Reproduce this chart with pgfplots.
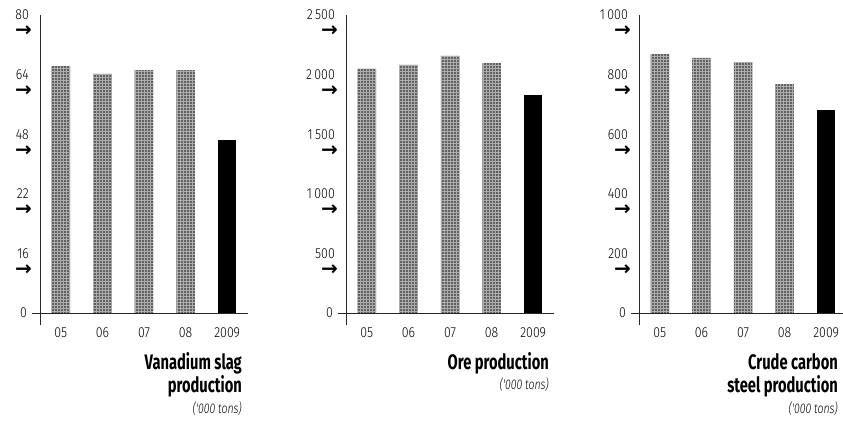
\documentclass[border=0pt]{standalone}
\usepackage{pgfplots}
\pgfplotsset{compat=1.18}
\usetikzlibrary{patterns}
\usepackage{fontspec}
\setmainfont{Fira Sans}
\newfontfamily\tickfont{Fira Sans Light}[FakeStretch=0.85]
\newfontfamily\unitfont{Fira Sans Light Italic}[FakeStretch=0.75]
\newfontfamily\titlefont{Fira Sans Bold}[FakeStretch=0.7]
\newfontfamily\arrowfont{DejaVu Sans Bold}

% tick label with an arrow hanging below it
\newcommand\tk[1]{\fontsize{14.5}{16}\tickfont #1\llap{\smash{\raisebox{-17pt}{\fontsize{20}{20}\arrowfont →}}\kern-3pt}}
\newcommand\zero{\fontsize{14.5}{16}\tickfont 0}

\pgfplotsset{
  panel/.style={
    scale only axis, width=208pt, height=310pt,
    anchor=south west,
    xmin=-0.5, xmax=4.5,
    axis lines=left,
    axis line style={-, line width=0.9pt, black!85},
    x axis line style={draw=none},
    major tick length=0pt,
    xtick={0,...,4}, xticklabels={05,06,07,08,2009},
    xticklabel style={font=\fontsize{14.5}{16}\tickfont, inner sep=0pt, anchor=north, yshift=-3pt},
    yticklabel style={anchor=east, inner sep=0pt, xshift=-11pt},
    extra y ticks={0}, extra y tick labels={\zero},
    extra y tick style={yticklabel style={xshift=-2pt}},
    clip=false,
    ybar, bar width=18.5pt,
  },
  past/.style={bar shift=0pt, draw=none, fill=black!62,
    postaction={pattern=grid, pattern color=black!32}},
  now/.style={bar shift=0pt, draw=none, fill=black},
}

\begin{document}
\begin{tikzpicture}
\path[use as bounding box] (0pt,0pt) rectangle (843pt,425pt);

% Vanadium slag production
\begin{axis}[panel, at={(40pt,100pt)}, ymin=-3.22, ymax=80,
  ytick={16,32,48,64,80},
  yticklabels={\tk{16},\tk{22},\tk{48},\tk{64},\tk{80}}]
  \addplot[past] coordinates {(0,66.3) (1,64.2) (2,65.2) (3,65.2)};
  \addplot[now] coordinates {(4,46.4)};
  \draw[line width=0.9pt, black!85] (axis cs:-0.5,0) ++(-8pt,0pt) -- (axis cs:4.5,0);
\end{axis}

% Ore production
\begin{axis}[panel, at={(346pt,100pt)}, ymin=-100.7, ymax=2500,
  ytick={500,1000,1500,2000,2500},
  yticklabels={\tk{500},\tk{1\,000},\tk{1\,500},\tk{2\,000},\tk{2\,500}}]
  \addplot[past] coordinates {(0,2047) (1,2081) (2,2156) (3,2097)};
  \addplot[now] coordinates {(4,1829)};
  \draw[line width=0.9pt, black!85] (axis cs:-0.5,0) ++(-8pt,0pt) -- (axis cs:4.5,0);
\end{axis}

% Crude carbon steel production
\begin{axis}[panel, at={(639pt,100pt)}, ymin=-40.3, ymax=1000,
  ytick={200,400,600,800,1000},
  yticklabels={\tk{200},\tk{400},\tk{600},\tk{800},\tk{1\,000}}]
  \addplot[past] coordinates {(0,869) (1,856) (2,842) (3,768)};
  \addplot[now] coordinates {(4,681)};
  \draw[line width=0.9pt, black!85] (axis cs:-0.5,0) ++(-8pt,0pt) -- (axis cs:4.5,0);
\end{axis}

% panel titles
\begin{scope}[every node/.style={anchor=base east, inner sep=0pt}]
  \node at (242pt,55pt) {\fontsize{21}{21}\titlefont Vanadium slag};
  \node at (242pt,32pt) {\fontsize{21}{21}\titlefont production};
  \node at (242pt,11pt) {\fontsize{14}{14}\unitfont ('000 tons)};
  \node at (549pt,55pt) {\fontsize{21}{21}\titlefont Ore production};
  \node at (549pt,35pt) {\fontsize{14}{14}\unitfont ('000 tons)};
  \node at (838pt,55pt) {\fontsize{21}{21}\titlefont Crude carbon};
  \node at (838pt,32pt) {\fontsize{21}{21}\titlefont steel production};
  \node at (838pt,11pt) {\fontsize{14}{14}\unitfont ('000 tons)};
\end{scope}
\end{tikzpicture}
\end{document}
